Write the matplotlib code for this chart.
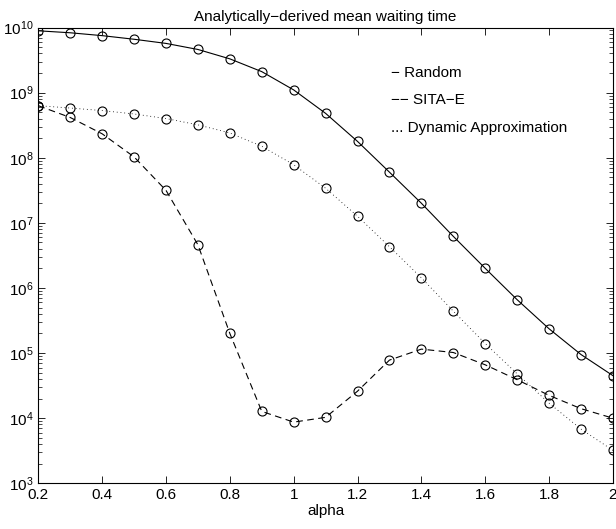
import matplotlib
matplotlib.use('Agg')
import matplotlib.pyplot as plt
from matplotlib.ticker import FixedLocator, FormatStrFormatter, LogLocator, NullFormatter

plt.rcParams['font.family'] = ['Liberation Sans', 'DejaVu Sans']
plt.rcParams['mathtext.fontset'] = 'custom'
plt.rcParams['mathtext.rm'] = 'Liberation Sans'
plt.rcParams['mathtext.it'] = 'Liberation Sans'

## data
alpha = [0.2, 0.3, 0.4, 0.5, 0.6, 0.7, 0.8, 0.9, 1.0, 1.1,
         1.2, 1.3, 1.4, 1.5, 1.6, 1.7, 1.8, 1.9, 2.0]
random_wt = [8.9e9, 8.3e9, 7.5e9, 6.6e9, 5.7e9, 4.6e9, 3.3e9, 2.1e9, 1.1e9, 4.8e8,
             1.78e8, 6.0e7, 2.0e7, 6.2e6, 2.0e6, 6.6e5, 2.36e5, 9.5e4, 4.5e4]
sita_e = [6.3e8, 4.15e8, 2.33e8, 1.03e8, 3.15e7, 4.6e6, 2.0e5, 1.27e4, 8.7e3, 1.03e4,
          2.6e4, 7.8e4, 1.15e5, 1.02e5, 6.6e4, 3.9e4, 2.24e4, 1.4e4, 1.0e4]
dynamic = [6.3e8, 5.8e8, 5.3e8, 4.7e8, 4.0e8, 3.2e8, 2.4e8, 1.5e8, 7.8e7, 3.4e7,
           1.26e7, 4.3e6, 1.43e6, 4.4e5, 1.4e5, 4.8e4, 1.7e4, 6.8e3, 3.2e3]
xticks = [0.2, 0.4, 0.6, 0.8, 1.0, 1.2, 1.4, 1.6, 1.8, 2.0]
legend_lines = ['\u2212 Random', '\u2212\u2212 SITA\u2212E', '... Dynamic Approximation']

fig = plt.figure(figsize=(6.16, 5.29), dpi=100)
ax = fig.add_axes([0.0622, 0.0864, 0.9328, 0.8616])

mk = dict(marker='o', markersize=6.5, markerfacecolor='none', markeredgecolor='black',
          markeredgewidth=0.8, color='black')
ax.plot(alpha, random_wt, linestyle='-', linewidth=0.8, **mk)
ax.plot(alpha, sita_e, linestyle=(0, (6, 4)), linewidth=0.8, **mk)
ax.plot(alpha, dynamic, linestyle=(0, (1, 3.5)), linewidth=0.6, **mk)

ax.set_yscale('log')
ax.set_xlim(0.2, 2.0)
ax.set_ylim(1e3, 1e10)
ax.xaxis.set_major_locator(FixedLocator(xticks))
ax.xaxis.set_major_formatter(FormatStrFormatter('%g'))
ax.yaxis.set_major_locator(LogLocator(base=10, numticks=20))
ax.yaxis.set_minor_locator(LogLocator(base=10, subs=range(2, 10), numticks=20))
ax.yaxis.set_minor_formatter(NullFormatter())
ax.tick_params(which='both', direction='in', top=True, right=True, labelsize=11)
ax.tick_params(which='major', length=5, width=0.6)
ax.tick_params(which='minor', length=3, width=0.5)
for s in ax.spines.values():
    s.set_linewidth(0.8)

ax.set_title('Analytically\u2212derived mean waiting time', fontsize=11, pad=5)
ax.set_xlabel('alpha', fontsize=11, labelpad=1)

for i, txt in enumerate(legend_lines):
    fig.text(391 / 616, 1 - (73 + i * 27.5) / 529, txt, fontsize=11, va='center', ha='left')

fig.savefig('out.png', dpi=100)
